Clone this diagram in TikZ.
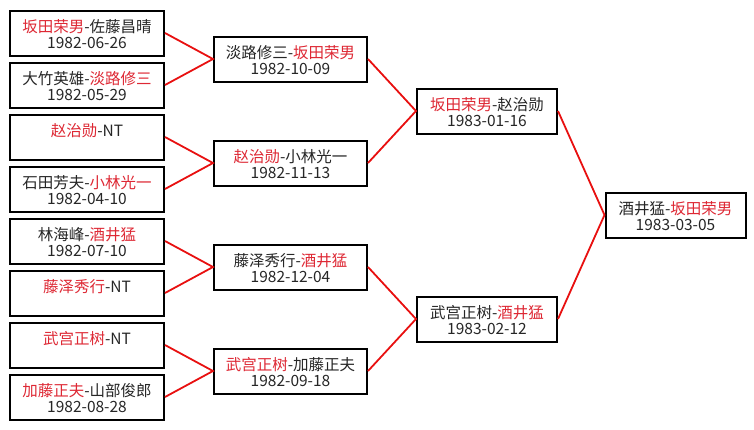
\documentclass[tikz,border=0pt]{standalone}
\usepackage{fontspec}
\setmainfont{Noto Sans CJK SC}
\definecolor{txtred}{RGB}{222,40,52}
\definecolor{linered}{RGB}{232,16,16}
\newcommand{\rn}[1]{\textcolor{txtred}{#1}}
\newcommand{\up}{\rule{0pt}{19pt}}
\tikzset{
  matchbox/.style={draw=black, line width=2pt, fill=white, minimum height=45pt, inner sep=0pt,
    align=center, font=\fontsize{15.5}{16}\selectfont, text=black!85},
  wide/.style={matchbox, minimum width=154pt},
  mid/.style={matchbox, minimum width=153pt},
  narrow/.style={matchbox, minimum width=140pt},
  link/.style={draw=linered, line width=1.8pt}
}
\begin{document}
\begin{tikzpicture}[x=1pt,y=-1pt]
\useasboundingbox (0,0) rectangle (754,429);
% round 1
\node[wide] (a1) at (87,33)  {\up\rn{坂田荣男}-佐藤昌晴\\\strut 1982-06-26};
\node[wide] (a2) at (87,85)  {\up 大竹英雄-\rn{淡路修三}\\\strut 1982-05-29};
\node[wide] (a3) at (87,137) {\up\rn{赵治勋}-NT\\\strut};
\node[wide] (a4) at (87,189) {\up 石田芳夫-\rn{小林光一}\\\strut 1982-04-10};
\node[wide] (a5) at (87,241) {\up 林海峰-\rn{酒井猛}\\\strut 1982-07-10};
\node[wide] (a6) at (87,293) {\up\rn{藤泽秀行}-NT\\\strut};
\node[wide] (a7) at (87,345) {\up\rn{武宫正树}-NT\\\strut};
\node[wide] (a8) at (87,397) {\up\rn{加藤正夫}-山部俊郎\\\strut 1982-08-28};
% round 2
\node[mid] (b1) at (290.5,59)  {\up 淡路修三-\rn{坂田荣男}\\\strut 1982-10-09};
\node[mid] (b2) at (290.5,163) {\up\rn{赵治勋}-小林光一\\\strut 1982-11-13};
\node[mid] (b3) at (290.5,267) {\up 藤泽秀行-\rn{酒井猛}\\\strut 1982-12-04};
\node[mid] (b4) at (290.5,371) {\up\rn{武宫正树}-加藤正夫\\\strut 1982-09-18};
% round 3
\node[narrow] (c1) at (487,111) {\up\rn{坂田荣男}-赵治勋\\\strut 1983-01-16};
\node[narrow] (c2) at (487,319) {\up 武宫正树-\rn{酒井猛}\\\strut 1983-02-12};
% final
\node[narrow] (d1) at (675.5,215) {\up 酒井猛-\rn{坂田荣男}\\\strut 1983-03-05};
% connectors
\path[link] (a1.east) -- (b1.west) -- (a2.east);
\path[link] (a3.east) -- (b2.west) -- (a4.east);
\path[link] (a5.east) -- (b3.west) -- (a6.east);
\path[link] (a7.east) -- (b4.west) -- (a8.east);
\path[link] (b1.east) -- (c1.west) -- (b2.east);
\path[link] (b3.east) -- (c2.west) -- (b4.east);
\path[link] (c1.east) -- (d1.west) -- (c2.east);
\end{tikzpicture}
\end{document}
